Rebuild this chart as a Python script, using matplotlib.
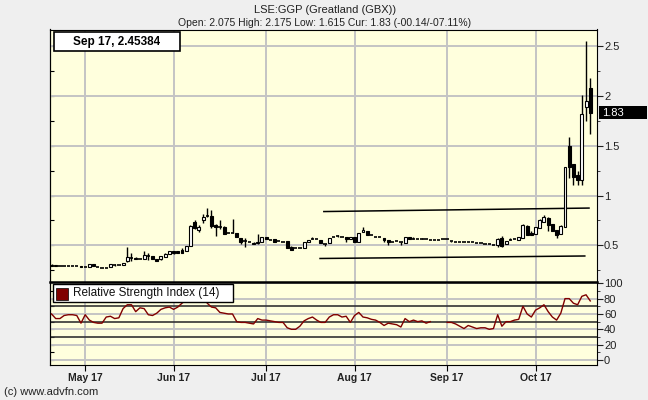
import numpy as np
import matplotlib.pyplot as plt
from matplotlib.patches import Rectangle
from matplotlib.ticker import MultipleLocator, FormatStrFormatter
from matplotlib.transforms import blended_transform_factory

plt.rcParams["font.family"] = ["Liberation Sans", "DejaVu Sans"]

# daily candles, one per trading day (index 0 = ~19 Apr 2017, last = 18 Oct 2017)
opens = [.305, .300, .290, .290, .290, .290, .290, .294, .285, .281,
         .310, .281, .277, .275, .281, .304, .302, .302, .347, .370,
         .372, .364, .364, .390, .390, .364, .361, .387, .413, .440,
         .440, .450, .440, .497, .730, .653, .752, .790, .795, .700,
         .685, .685, .626, .626, .619, .570, .540, .533, .527, .520,
         .533, .580, .553, .560, .540, .537, .540, .487, .470, .470,
         .470, .533, .560, .563, .550, .517, .520, .580, .593, .583,
         .580, .560, .580, .537, .633, .643, .600, .587, .580, .570,
         .553, .537, .543, .533, .527, .580, .566, .566, .566, .560,
         .553, .553, .550, .560, .560, .546, .536, .536, .530, .530,
         .530, .520, .520, .513, .513, .503, .503, .576, .513, .553,
         .560, .553, .570, .692, .619, .609, .669, .735, .775, .711,
         .652, .616, .685, 1.497, 1.32, 1.205, 1.16, 1.89, 2.075]
highs = [.312, .300, .290, .290, .290, .290, .290, .296, .285, .311,
         .312, .281, .277, .275, .311, .311, .302, .324, .480, .420,
         .380, .364, .443, .427, .395, .366, .393, .420, .443, .445,
         .442, .470, .497, .700, .752, .700, .817, .877, .850, .710,
         .752, .690, .626, .760, .620, .575, .570, .533, .530, .612,
         .585, .582, .553, .560, .540, .537, .545, .490, .470, .470,
         .533, .556, .580, .563, .550, .517, .570, .580, .600, .583,
         .580, .580, .580, .626, .687, .645, .600, .587, .580, .570,
         .553, .537, .543, .533, .587, .580, .580, .566, .575, .560,
         .553, .553, .550, .560, .560, .546, .536, .536, .530, .530,
         .530, .520, .520, .513, .513, .503, .576, .596, .546, .570,
         .560, .586, .718, .700, .642, .680, .768, .808, .780, .715,
         .655, .700, 1.29, 1.586, 1.32, 1.25, 2.01, 2.55, 2.175]
lows = [.295, .290, .290, .290, .290, .290, .290, .280, .285, .281,
        .294, .281, .277, .268, .280, .295, .302, .300, .335, .338,
        .360, .364, .360, .354, .360, .344, .355, .385, .410, .415,
        .425, .425, .440, .490, .663, .630, .726, .785, .670, .596,
        .660, .612, .626, .626, .583, .510, .487, .533, .513, .513,
        .530, .560, .553, .533, .540, .537, .477, .457, .470, .470,
        .470, .530, .560, .563, .524, .490, .520, .580, .580, .583,
        .537, .560, .537, .537, .630, .600, .600, .587, .580, .533,
        .505, .537, .543, .505, .527, .560, .566, .566, .566, .560,
        .553, .553, .550, .560, .560, .535, .536, .536, .530, .530,
        .530, .520, .520, .513, .513, .503, .487, .480, .510, .553,
        .560, .553, .570, .602, .600, .609, .669, .735, .646, .646,
        .576, .610, .680, 1.18, 1.11, 1.11, 1.11, 1.75, 1.615]
closes = [.297, .292, .290, .290, .290, .290, .290, .281, .285, .311,
          .295, .281, .277, .275, .311, .304, .302, .324, .381, .370,
          .362, .364, .400, .390, .361, .346, .393, .413, .443, .420,
          .428, .428, .497, .689, .676, .680, .780, .790, .696, .685,
          .685, .612, .626, .626, .583, .537, .540, .533, .513, .533,
          .580, .560, .553, .533, .540, .537, .477, .457, .470, .470,
          .533, .556, .560, .563, .524, .517, .570, .580, .593, .583,
          .560, .580, .537, .626, .653, .600, .600, .587, .580, .553,
          .537, .537, .543, .533, .587, .560, .566, .566, .566, .560,
          .553, .553, .550, .560, .560, .546, .536, .536, .530, .530,
          .530, .520, .520, .513, .513, .503, .562, .496, .546, .553,
          .560, .586, .708, .602, .602, .679, .752, .785, .702, .646,
          .602, .692, 1.288, 1.29, 1.19, 1.16, 1.82, 1.95, 1.83]
rsi = [60, 54, 54, 58, 59, 59, 58, 48, 59, 52,
       49, 48, 48, 56, 57, 54, 55, 67, 72, 72,
       63, 68, 67, 59, 58, 61, 66, 68, 69, 66,
       69, 74, 78, 86, 82, 81, 84, 74, 69, 68,
       62, 61, 60, 60, 50, 49, 49, 48, 47, 54,
       52, 52, 51, 50, 49, 49, 42, 40, 40, 44,
       51, 54, 56, 52, 49, 49, 56, 59, 59, 56,
       57, 49, 58, 62, 56, 55, 53, 52, 49, 45,
       48, 47, 46, 43, 54, 50, 52, 50, 51, 48,
       50, np.nan, np.nan, np.nan, 49, 49, 47, 44, 41, 45,
       43, 41, 42, 42, 40, 41, 59, 44, 50, 50,
       52, 53, 70, 60, 56, 65, 68, 72, 63, 56,
       52, 61, 80, 80, 74, 72, 83, 85, 77]

month_pos = [8, 29, 51, 72, 94, 115]
month_lbl = ["May 17", "Jun 17", "Jul 17", "Aug 17", "Sep 17", "Oct 17"]
# hand-drawn channel lines (start/end index and price)
upper_x, upper_y = [64.7, 127.7], [0.839, 0.874]
lower_x, lower_y = [63.8, 126.7], [0.368, 0.393]

BG = "#efefef"; PANEL = "#ffffdd"; GRID = "#c4c4c4"
W, H = 648, 400

fig = plt.figure(figsize=(6.48, 4.0), dpi=100, facecolor=BG)
L, R = 50 / W, 597 / W
ax = fig.add_axes([L, 1 - 281.5 / H, R - L, (281.5 - 29.5) / H], facecolor=PANEL)
ax2 = fig.add_axes([L, 1 - 365 / H, R - L, (365 - 281.5) / H], facecolor=PANEL, sharex=ax)

x = np.arange(len(closes))
o, h, l, c = map(np.array, (opens, highs, lows, closes))

# candles
ax.vlines(x, l, h, color="black", lw=1, zorder=2)
up, dn, flat = c > o, c < o, c == o
ax.bar(x[up], (c - o)[up], bottom=o[up], width=0.7, facecolor="white", edgecolor="black", lw=0.8, zorder=3)
ax.bar(x[dn], (o - c)[dn], bottom=c[dn], width=0.7, facecolor="black", edgecolor="black", lw=0.8, zorder=3)
ax.hlines(o[flat], x[flat] - 0.4, x[flat] + 0.4, color="black", lw=1.2, zorder=3)
ax.plot(upper_x, upper_y, color="black", lw=1.1, zorder=2)
ax.plot(lower_x, lower_y, color="black", lw=1.1, zorder=2)

ax.set_xlim(-0.36, 129.6)
ax.set_ylim(0.137, 2.666)
ax.yaxis.set_major_locator(MultipleLocator(0.5))
ax.yaxis.set_minor_locator(MultipleLocator(0.25))
ax.yaxis.set_major_formatter(FormatStrFormatter("%g"))
ax.set_xticks(month_pos)
ax.grid(True, color=GRID, lw=1.4)
ax.set_axisbelow(True)
ax.tick_params(axis="x", bottom=False, labelbottom=False)
ax.tick_params(axis="y", which="both", left=False, labelleft=False, right=True, labelright=True,
               direction="out", labelsize=8, colors="#222222", pad=1)
ax.tick_params(axis="y", which="major", length=4)
ax.tick_params(axis="y", which="minor", length=2.5)
sec = ax.secondary_yaxis("left")
sec.yaxis.set_major_locator(MultipleLocator(0.25))
sec.tick_params(direction="in", length=3, labelleft=False)

# RSI panel
ax2.plot(x, rsi, color="#800000", lw=1, zorder=3)
for lv in (70, 50, 30):
    ax2.axhline(lv, color="#333333", lw=1.2, zorder=2)
ax2.set_ylim(-6.5, 102.3)
ax2.yaxis.set_major_locator(MultipleLocator(20))
ax2.yaxis.set_minor_locator(MultipleLocator(10))
ax2.grid(True, color=GRID, lw=1.4)
ax2.set_axisbelow(True)
ax2.set_xticks(month_pos)
ax2.set_xticklabels(month_lbl, fontsize=7.5, fontweight="bold", color="#222222")
ax2.tick_params(axis="x", direction="out", length=4, pad=2)
ax2.tick_params(axis="y", which="both", left=False, labelleft=False, right=True, labelright=True,
                direction="out", labelsize=8, colors="#222222", pad=1)
ax2.tick_params(axis="y", which="major", length=4)
ax2.tick_params(axis="y", which="minor", length=2.5)
sec2 = ax2.secondary_yaxis("left")
sec2.yaxis.set_major_locator(MultipleLocator(10))
sec2.tick_params(direction="in", length=3, labelleft=False)
ax2.spines["top"].set_linewidth(1.8)

for a in (ax, ax2):
    for s in a.spines.values():
        s.set_color("black")

# current price marker
bt = blended_transform_factory(fig.transFigure, ax.transData)
ax.add_artist(Rectangle((599 / W, c[-1] - 0.066), 48 / W, 0.133, transform=bt,
                        facecolor="black", edgecolor="none", clip_on=False, zorder=5))
ax.text(602 / W, c[-1], "%.2f" % c[-1], transform=bt, color="white", fontsize=8,
        va="center", ha="left", zorder=6, clip_on=False)

# crosshair readout box
fig.add_artist(Rectangle((53.7 / W, 1 - 50.7 / H), 126 / W, 18.4 / H, transform=fig.transFigure,
                         facecolor="white", edgecolor="black", lw=1.2, zorder=5))
fig.text(116.7 / W, 1 - 41.5 / H, "Sep 17, 2.45384", fontsize=8.5, fontweight="bold",
         ha="center", va="center", zorder=6)

# RSI legend box
fig.add_artist(Rectangle((53.3 / W, 1 - 302.3 / H), 180 / W, 18.3 / H, transform=fig.transFigure,
                         facecolor="white", edgecolor="black", lw=1, zorder=5))
fig.add_artist(Rectangle((55.7 / W, 1 - 300 / H), 12.6 / W, 12.3 / H, transform=fig.transFigure,
                         facecolor="#800000", edgecolor="black", lw=0.5, zorder=6))
fig.text(73 / W, 1 - 293.2 / H, "Relative Strength Index (14)", fontsize=8.5, ha="left",
         va="center", color="#111111", zorder=6)

# titles and footer
fig.text(325 / W, 1 - 10 / H, "LSE:GGP (Greatland (GBX))", fontsize=8, ha="center", va="center", color="#222222")
fig.text(325 / W, 1 - 23.3 / H, "Open: 2.075 High: 2.175 Low: 1.615 Cur: 1.83 (-00.14/-07.11%)",
         fontsize=7.5, ha="center", va="center", color="#222222")
fig.text(4 / W, 1 - 391.7 / H, "(c) www.advfn.com", fontsize=8, ha="left", va="center", color="#222222")

fig.savefig("out.png", dpi=100, facecolor=BG)
